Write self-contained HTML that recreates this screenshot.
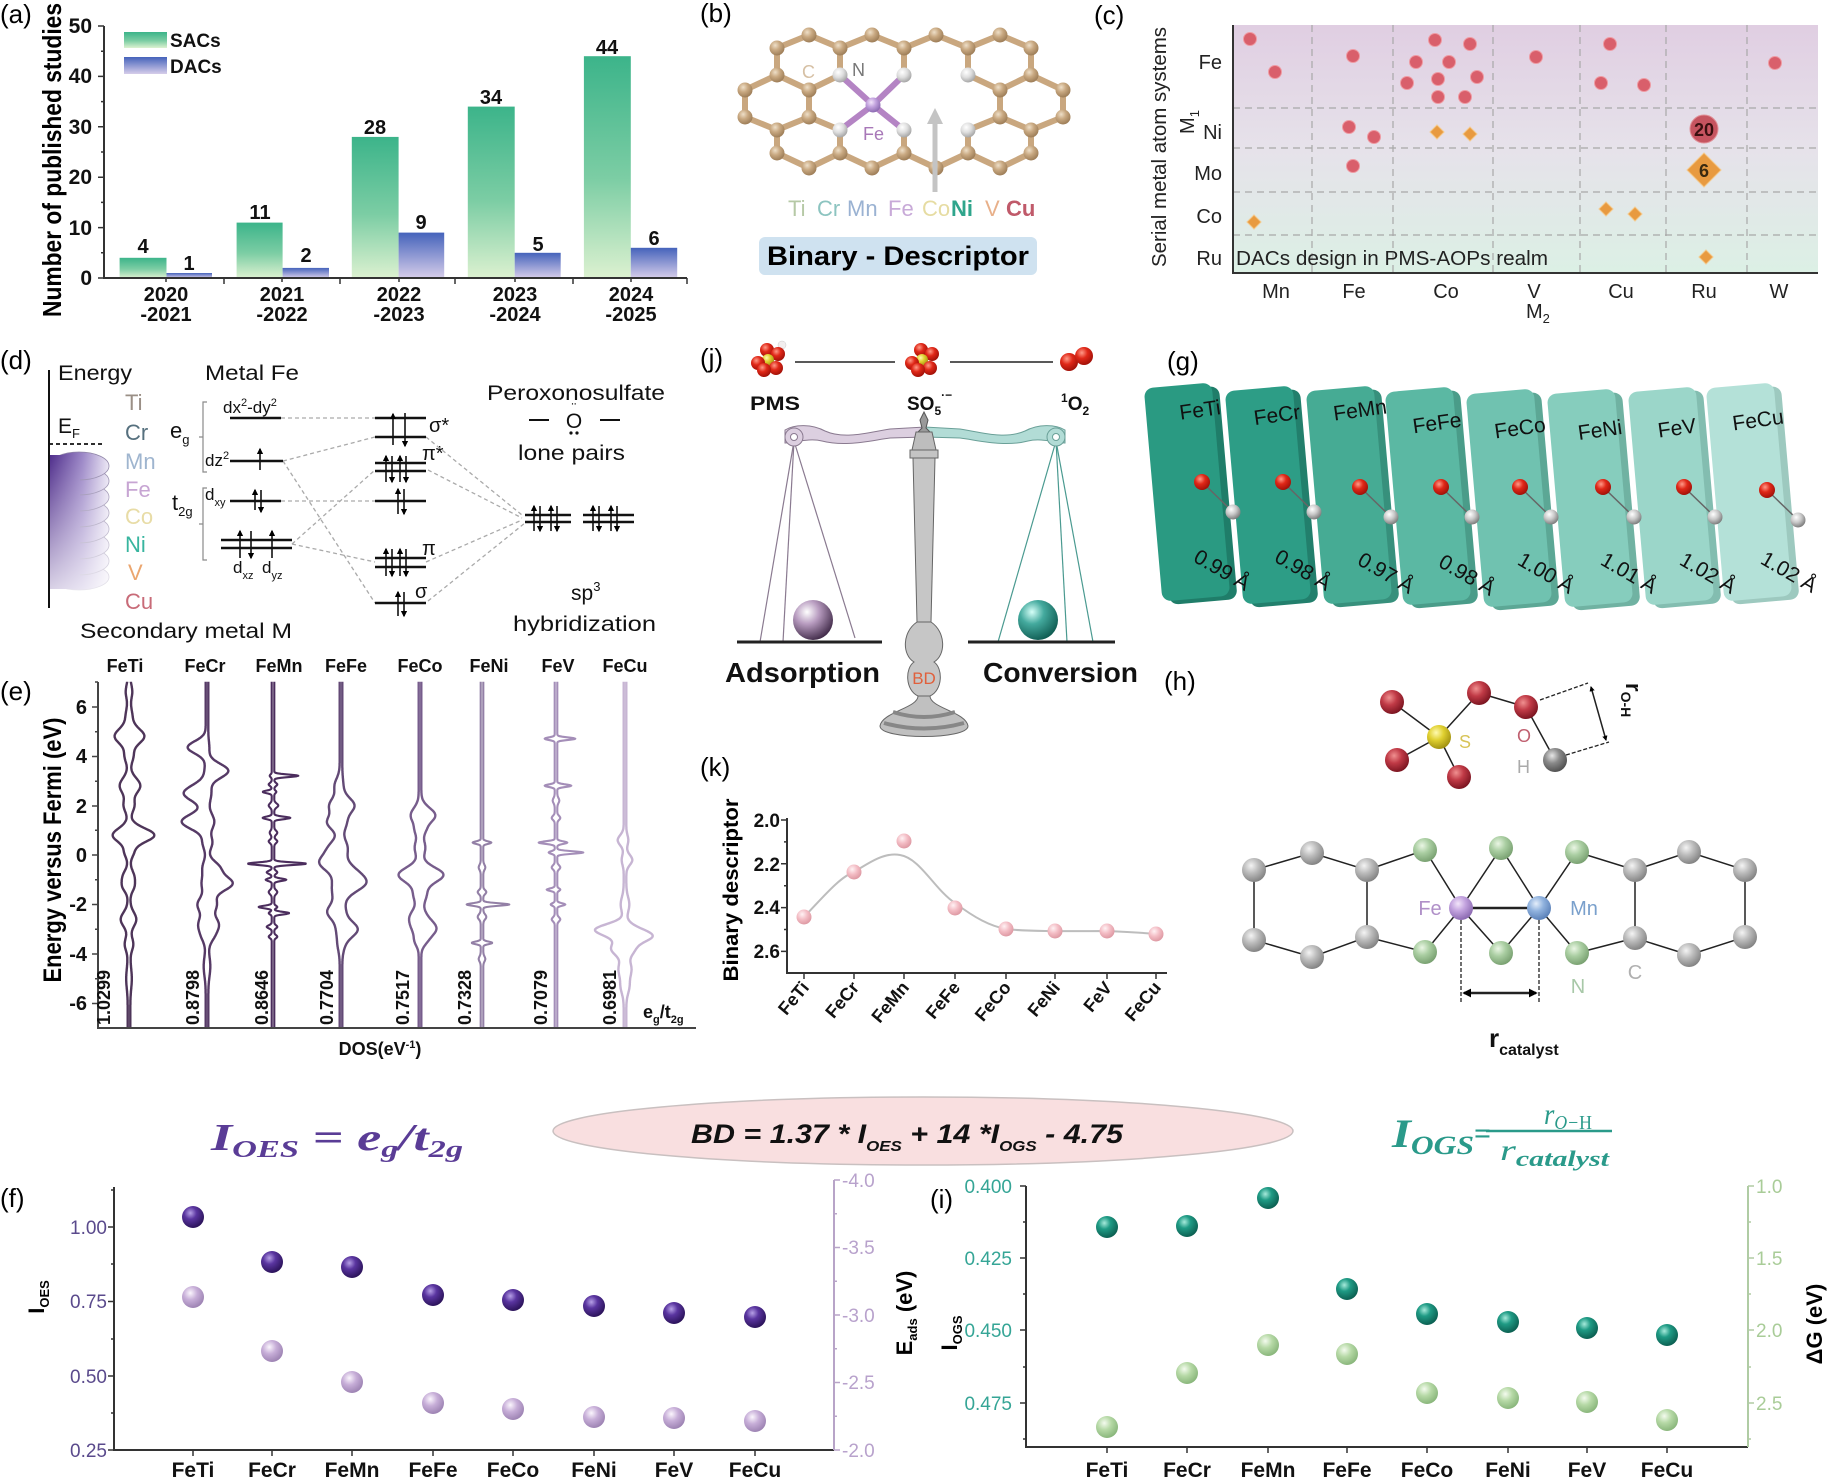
<!DOCTYPE html>
<html><head><meta charset="utf-8"><title>Binary descriptor figure</title>
<style>html,body{margin:0;padding:0;background:#fff}svg{display:block}</style>
</head><body>
<svg xmlns="http://www.w3.org/2000/svg" width="1836" height="1480" viewBox="0 0 1836 1480" font-family="'Liberation Sans', sans-serif">
<defs>
<linearGradient id="gSAC" x1="0" y1="0" x2="0" y2="1"><stop offset="0" stop-color="#3cb48a"/><stop offset="0.55" stop-color="#7ccda4"/><stop offset="1" stop-color="#dcf1d0"/></linearGradient>
<linearGradient id="gDAC" x1="0" y1="0" x2="0" y2="1"><stop offset="0" stop-color="#4563bb"/><stop offset="1" stop-color="#d6cdea"/></linearGradient>
<linearGradient id="gC" x1="0" y1="0" x2="0" y2="1"><stop offset="0" stop-color="#e0cee2"/><stop offset="0.5" stop-color="#e6e2ea"/><stop offset="1" stop-color="#dcf0e5"/></linearGradient>
<linearGradient id="gBand" gradientUnits="userSpaceOnUse" x1="49" y1="0" x2="110" y2="0"><stop offset="0" stop-color="#4a2888"/><stop offset="0.55" stop-color="#9a85c6"/><stop offset="1" stop-color="#eeeaf6"/></linearGradient>
<linearGradient id="gFade" x1="0" y1="0" x2="0" y2="1"><stop offset="0" stop-color="#fff" stop-opacity="0"/><stop offset="1" stop-color="#fff" stop-opacity="0.8"/></linearGradient>
<radialGradient id="sDark" cx="0.38" cy="0.32" r="0.7"><stop offset="0" stop-color="#b6a0e6"/><stop offset="0.4" stop-color="#5a35a0"/><stop offset="1" stop-color="#2a1258"/></radialGradient>
<radialGradient id="sLight" cx="0.38" cy="0.32" r="0.7"><stop offset="0" stop-color="#fbf6fd"/><stop offset="0.45" stop-color="#c7aed8"/><stop offset="1" stop-color="#9c82b2"/></radialGradient>
<radialGradient id="sTeal" cx="0.38" cy="0.32" r="0.7"><stop offset="0" stop-color="#a6eadb"/><stop offset="0.4" stop-color="#1f9b85"/><stop offset="1" stop-color="#0b5e50"/></radialGradient>
<radialGradient id="sGreen" cx="0.38" cy="0.32" r="0.7"><stop offset="0" stop-color="#f4fbef"/><stop offset="0.45" stop-color="#b6d9a6"/><stop offset="1" stop-color="#88b57a"/></radialGradient>
<radialGradient id="sPink" cx="0.38" cy="0.32" r="0.7"><stop offset="0" stop-color="#fff2f4"/><stop offset="0.5" stop-color="#f3bcc4"/><stop offset="1" stop-color="#dd98a2"/></radialGradient>
<radialGradient id="aO" cx="0.38" cy="0.32" r="0.7"><stop offset="0" stop-color="#f09090"/><stop offset="0.45" stop-color="#c03a46"/><stop offset="1" stop-color="#7a1420"/></radialGradient>
<radialGradient id="aS" cx="0.38" cy="0.32" r="0.7"><stop offset="0" stop-color="#fffab0"/><stop offset="0.45" stop-color="#e0d030"/><stop offset="1" stop-color="#a09010"/></radialGradient>
<radialGradient id="aH" cx="0.38" cy="0.32" r="0.7"><stop offset="0" stop-color="#e6e6e6"/><stop offset="0.45" stop-color="#8a8a8a"/><stop offset="1" stop-color="#505050"/></radialGradient>
<radialGradient id="aC" cx="0.38" cy="0.32" r="0.7"><stop offset="0" stop-color="#f4f4f4"/><stop offset="0.45" stop-color="#bcbcbc"/><stop offset="1" stop-color="#828282"/></radialGradient>
<radialGradient id="aN" cx="0.38" cy="0.32" r="0.7"><stop offset="0" stop-color="#eaf6e4"/><stop offset="0.45" stop-color="#aacea2"/><stop offset="1" stop-color="#78a070"/></radialGradient>
<radialGradient id="aFe" cx="0.38" cy="0.32" r="0.7"><stop offset="0" stop-color="#f2e4fa"/><stop offset="0.45" stop-color="#c2a2de"/><stop offset="1" stop-color="#8a68b0"/></radialGradient>
<radialGradient id="aMn" cx="0.38" cy="0.32" r="0.7"><stop offset="0" stop-color="#e4eefa"/><stop offset="0.45" stop-color="#90b2de"/><stop offset="1" stop-color="#5a80b8"/></radialGradient>
<radialGradient id="aTan" cx="0.38" cy="0.32" r="0.7"><stop offset="0" stop-color="#eedfc8"/><stop offset="0.45" stop-color="#c9a982"/><stop offset="1" stop-color="#9c7c56"/></radialGradient>
<radialGradient id="aW" cx="0.38" cy="0.32" r="0.7"><stop offset="0" stop-color="#ffffff"/><stop offset="0.5" stop-color="#dedede"/><stop offset="1" stop-color="#a4a4a4"/></radialGradient>
<radialGradient id="aRed" cx="0.38" cy="0.32" r="0.7"><stop offset="0" stop-color="#ff9a88"/><stop offset="0.45" stop-color="#e02818"/><stop offset="1" stop-color="#a01008"/></radialGradient>
<radialGradient id="aGr" cx="0.38" cy="0.32" r="0.7"><stop offset="0" stop-color="#ffffff"/><stop offset="0.5" stop-color="#c8c8c8"/><stop offset="1" stop-color="#7a7a7a"/></radialGradient>
<radialGradient id="ballP" cx="0.35" cy="0.3" r="0.75"><stop offset="0" stop-color="#ffffff"/><stop offset="0.4" stop-color="#b89cc0"/><stop offset="1" stop-color="#3e2846"/></radialGradient>
<radialGradient id="ballT" cx="0.35" cy="0.3" r="0.75"><stop offset="0" stop-color="#d6fff8"/><stop offset="0.4" stop-color="#44aa9e"/><stop offset="1" stop-color="#0e5a50"/></radialGradient>
<marker id="ar" viewBox="0 0 10 10" refX="8" refY="5" markerWidth="4" markerHeight="4" orient="auto"><path d="M0,0L10,5L0,10z" fill="#000"/></marker>
<marker id="ar2" viewBox="0 0 10 10" refX="8" refY="5" markerWidth="3.5" markerHeight="3.5" orient="auto-start-reverse"><path d="M0,0L10,5L0,10z" fill="#000"/></marker>
</defs>

<!-- ================= (a) ================= -->
<text x="0" y="23" font-size="26">(a)</text>
<g font-weight="bold" font-size="21" text-anchor="end" fill="#111">
<text x="92" y="33">50</text><text x="92" y="83">40</text><text x="92" y="134">30</text><text x="92" y="184">20</text><text x="92" y="235">10</text><text x="92" y="285">0</text>
</g>
<text transform="rotate(-90 61 160)" x="61" y="160" text-anchor="middle" font-weight="bold" font-size="26" textLength="314" lengthAdjust="spacingAndGlyphs">Number of published studies</text>
<rect x="119.6" y="257.8" width="46.9" height="20.2" fill="url(#gSAC)"/>
<rect x="166.5" y="273" width="45.5" height="5" fill="url(#gDAC)"/>
<rect x="236.6" y="222.6" width="46" height="55.4" fill="url(#gSAC)"/>
<rect x="282.6" y="267.9" width="46.4" height="10.1" fill="url(#gDAC)"/>
<rect x="351.8" y="136.9" width="46.8" height="141.1" fill="url(#gSAC)"/>
<rect x="398.6" y="232.6" width="45.6" height="45.4" fill="url(#gDAC)"/>
<rect x="467.8" y="106.6" width="46.9" height="171.4" fill="url(#gSAC)"/>
<rect x="514.7" y="252.8" width="46" height="25.2" fill="url(#gDAC)"/>
<rect x="583.9" y="56.2" width="46.9" height="221.8" fill="url(#gSAC)"/>
<rect x="630.8" y="247.8" width="46.4" height="30.2" fill="url(#gDAC)"/>
<path d="M104,26V278H687" stroke="#333" stroke-width="2" fill="none"/>
<path d="M98,26H104M98,76.4H104M98,126.8H104M98,177.2H104M98,227.6H104M98,278H104M101,51.2H104M101,101.6H104M101,152H104M101,202.4H104M101,252.8H104" stroke="#333" stroke-width="1.5"/>
<path d="M224,278V284M340,278V284M455,278V284M573,278V284M687,278V284M166,278V282M282,278V282M399,278V282M515,278V282M631,278V282" stroke="#333" stroke-width="1.5"/>
<rect x="124" y="32" width="43" height="16" fill="url(#gSAC)"/>
<rect x="124" y="57" width="43" height="17" fill="url(#gDAC)"/>
<g font-weight="bold" font-size="19" fill="#111">
<text x="170" y="47">SACs</text><text x="170" y="73">DACs</text>
</g>
<g font-weight="bold" font-size="20" text-anchor="middle" fill="#111">
<text x="143" y="253">4</text><text x="189" y="270">1</text>
<text x="260" y="219">11</text><text x="306" y="262">2</text>
<text x="375" y="134">28</text><text x="421" y="229">9</text>
<text x="491" y="104">34</text><text x="538" y="251">5</text>
<text x="607" y="54">44</text><text x="654" y="245">6</text>
<text x="166" y="301">2020</text><text x="166" y="321">-2021</text>
<text x="282" y="301">2021</text><text x="282" y="321">-2022</text>
<text x="399" y="301">2022</text><text x="399" y="321">-2023</text>
<text x="515" y="301">2023</text><text x="515" y="321">-2024</text>
<text x="631" y="301">2024</text><text x="631" y="321">-2025</text>
</g>

<!-- ================= (b) ================= -->
<text x="700" y="22" font-size="26">(b)</text>
<g stroke="#c9a77f" stroke-width="6" stroke-linecap="round" fill="none">
<path d="M777,48L809,35L840,48L872,35L904,48L936,35L968,48L1000,35L1031,48"/>
<path d="M777,48V75M840,48V75M904,48V75M968,48V75M1031,48V75"/>
<path d="M745,90L777,75L809,90L840,75M968,75L1000,90L1031,75L1063,90"/>
<path d="M745,90V117M809,90V117M1000,90V117M1063,90V117"/>
<path d="M745,117L777,130L809,117L840,130M968,130L1000,117L1031,130L1063,117"/>
<path d="M777,130V153M840,130V153M904,130V153M968,130V153M1031,130V153"/>
<path d="M777,153L809,168L840,153L872,168L904,153L936,168L968,153L1000,168L1031,153"/>
</g>
<path d="M873,105L840,75M873,105L904,75M873,105L840,130M873,105L904,130" stroke="#b484c4" stroke-width="6" stroke-linecap="round"/>
<g fill="url(#aTan)">
<circle cx="809" cy="35" r="7.5"/><circle cx="872" cy="35" r="7.5"/><circle cx="936" cy="35" r="7.5"/><circle cx="1000" cy="35" r="7.5"/>
<circle cx="777" cy="48" r="7.5"/><circle cx="840" cy="48" r="7.5"/><circle cx="904" cy="48" r="7.5"/><circle cx="968" cy="48" r="7.5"/><circle cx="1031" cy="48" r="7.5"/>
<circle cx="777" cy="75" r="7.5"/><circle cx="1031" cy="75" r="7.5"/>
<circle cx="745" cy="90" r="7.5"/><circle cx="809" cy="90" r="7.5"/><circle cx="1000" cy="90" r="7.5"/><circle cx="1063" cy="90" r="7.5"/>
<circle cx="745" cy="117" r="7.5"/><circle cx="809" cy="117" r="7.5"/><circle cx="1000" cy="117" r="7.5"/><circle cx="1063" cy="117" r="7.5"/>
<circle cx="777" cy="130" r="7.5"/><circle cx="1031" cy="130" r="7.5"/>
<circle cx="777" cy="153" r="7.5"/><circle cx="840" cy="153" r="7.5"/><circle cx="904" cy="153" r="7.5"/><circle cx="968" cy="153" r="7.5"/><circle cx="1031" cy="153" r="7.5"/>
<circle cx="809" cy="168" r="7.5"/><circle cx="872" cy="168" r="7.5"/><circle cx="936" cy="168" r="7.5"/><circle cx="1000" cy="168" r="7.5"/>
</g>
<g fill="url(#aW)">
<circle cx="840" cy="75" r="7.5"/><circle cx="904" cy="75" r="7.5"/><circle cx="968" cy="75" r="7.5"/>
<circle cx="840" cy="130" r="7.5"/><circle cx="904" cy="130" r="7.5"/><circle cx="968" cy="130" r="7.5"/>
</g>
<circle cx="873" cy="105" r="7.5" fill="url(#aFe)"/>
<path d="M935,192V122" stroke="#c4c4c4" stroke-width="5"/>
<polygon points="927,124 935,108 943,124" fill="#c4c4c4"/>
<text x="802" y="78" font-size="18" fill="#d6c0a4">C</text>
<text x="852" y="76" font-size="18" fill="#777">N</text>
<text x="863" y="140" font-size="18" fill="#a878b8">Fe</text>
<g font-size="22">
<text x="788" y="216" fill="#b6c9a6">Ti</text>
<text x="817" y="216" fill="#8cc4c0">Cr</text>
<text x="847" y="216" fill="#9ab2d2">Mn</text>
<text x="888" y="216" fill="#c8aad8">Fe</text>
<text x="922" y="216" fill="#e6dca2">Co</text>
<text x="951" y="216" fill="#2fa58c" font-weight="bold">Ni</text>
<text x="985" y="216" fill="#e8b08a">V</text>
<text x="1006" y="216" fill="#c05a6a" font-weight="bold">Cu</text>
</g>
<rect x="759" y="237" width="278" height="38" rx="6" fill="#cfe2f0"/>
<text x="898" y="265" text-anchor="middle" font-size="27" font-weight="bold" textLength="262" lengthAdjust="spacingAndGlyphs">Binary - Descriptor</text>

<!-- ================= (c) ================= -->
<text x="1094" y="24" font-size="26">(c)</text>
<rect x="1233" y="25" width="585" height="248" fill="url(#gC)"/>
<g stroke="#a8a8a8" stroke-width="1.2" stroke-dasharray="7 5" fill="none">
<path d="M1233,108H1818M1233,148H1818M1233,192H1818M1233,235H1818"/>
<path d="M1312,25V273M1393,25V273M1493,25V273M1580,25V273M1666,25V273M1747,25V273"/>
</g>
<path d="M1233,25V273H1818" stroke="#333" stroke-width="2" fill="none"/>
<g fill="#d95f6b" stroke="#ee9aa2" stroke-width="1">
<circle cx="1250" cy="39" r="6.5"/><circle cx="1275" cy="72" r="6.5"/>
<circle cx="1353" cy="56" r="6.5"/><circle cx="1435" cy="40" r="6.5"/><circle cx="1470" cy="44" r="6.5"/>
<circle cx="1416" cy="62" r="6.5"/><circle cx="1449" cy="62" r="6.5"/><circle cx="1407" cy="83" r="6.5"/>
<circle cx="1438" cy="79" r="6.5"/><circle cx="1477" cy="77" r="6.5"/><circle cx="1438" cy="97" r="6.5"/>
<circle cx="1465" cy="97" r="6.5"/><circle cx="1536" cy="57" r="6.5"/><circle cx="1610" cy="44" r="6.5"/>
<circle cx="1601" cy="83" r="6.5"/><circle cx="1644" cy="85" r="6.5"/><circle cx="1775" cy="63" r="6.5"/>
<circle cx="1349" cy="127" r="6.5"/><circle cx="1374" cy="137" r="6.5"/><circle cx="1353" cy="166" r="6.5"/>
</g>
<circle cx="1704" cy="129" r="14" fill="#c65460" stroke="#e09098" stroke-width="1"/>
<text x="1704" y="136" text-anchor="middle" font-size="18" font-weight="bold" fill="#3a1010">20</text>
<g fill="#e89a40" stroke="#f4c88a" stroke-width="1">
<polygon points="1437,125 1444,132 1437,139 1430,132"/>
<polygon points="1470,127 1477,134 1470,141 1463,134"/>
<polygon points="1606,202 1613,209 1606,216 1599,209"/>
<polygon points="1635,207 1642,214 1635,221 1628,214"/>
<polygon points="1706,250 1713,257 1706,264 1699,257"/>
<polygon points="1254,215 1261,222 1254,229 1247,222"/>
<polygon points="1704,153 1721,170 1704,187 1687,170"/>
</g>
<text x="1704" y="177" text-anchor="middle" font-size="18" font-weight="bold" fill="#3a2a10">6</text>
<g font-size="20" fill="#222">
<text x="1222" y="69" text-anchor="end">Fe</text>
<text x="1222" y="139" text-anchor="end">Ni</text>
<text x="1222" y="180" text-anchor="end">Mo</text>
<text x="1222" y="223" text-anchor="end">Co</text>
<text x="1222" y="265" text-anchor="end">Ru</text>
<text x="1236" y="265" textLength="312" lengthAdjust="spacingAndGlyphs">DACs design in PMS-AOPs realm</text>
<text x="1276" y="298" text-anchor="middle">Mn</text>
<text x="1354" y="298" text-anchor="middle">Fe</text>
<text x="1446" y="298" text-anchor="middle">Co</text>
<text x="1534" y="298" text-anchor="middle">V</text>
<text x="1621" y="298" text-anchor="middle">Cu</text>
<text x="1704" y="298" text-anchor="middle">Ru</text>
<text x="1779" y="298" text-anchor="middle">W</text>
<text x="1526" y="318">M<tspan font-size="13" dy="5">2</tspan></text>
<text transform="rotate(-90 1166 147)" x="1166" y="147" text-anchor="middle" textLength="240" lengthAdjust="spacingAndGlyphs">Serial metal atom systems</text>
<text transform="rotate(-90 1194 122)" x="1194" y="122" text-anchor="middle">M<tspan font-size="13" dy="5">1</tspan></text>
</g>

<!-- ================= (d) ================= -->
<text x="0" y="369" font-size="26">(d)</text>
<path d="M49,370V608" stroke="#111" stroke-width="2"/>
<g fill="url(#gBand)" stroke="#8d82a6" stroke-width="0.8">
<ellipse cx="79" cy="577" rx="30" ry="13"/><ellipse cx="79" cy="561" rx="30" ry="14"/>
<ellipse cx="79" cy="545" rx="30" ry="14"/><ellipse cx="79" cy="529" rx="30" ry="14"/>
<ellipse cx="79" cy="513" rx="30" ry="14"/><ellipse cx="79" cy="497" rx="30" ry="14"/>
<ellipse cx="79" cy="481" rx="30" ry="14"/><ellipse cx="79" cy="466" rx="30" ry="14"/>
</g>
<rect x="50" y="455" width="30" height="134" fill="url(#gBand)"/>
<rect x="45" y="452" width="70" height="140" fill="url(#gFade)"/>
<path d="M49,370V608" stroke="#111" stroke-width="2"/>
<path d="M49,444H103" stroke="#111" stroke-width="1.8" stroke-dasharray="4 3"/>
<g font-size="21" fill="#111">
<text x="58" y="380" textLength="74" lengthAdjust="spacingAndGlyphs">Energy</text>
<text x="205" y="380" textLength="94" lengthAdjust="spacingAndGlyphs">Metal Fe</text>
<text x="58" y="433">E<tspan font-size="13" dy="5">F</tspan></text>
<text x="80" y="638" textLength="212" lengthAdjust="spacingAndGlyphs">Secondary metal M</text>
<text x="487" y="400" textLength="178" lengthAdjust="spacingAndGlyphs">Peroxonosulfate</text>
<text x="518" y="460" textLength="107" lengthAdjust="spacingAndGlyphs">lone pairs</text>
<text x="571" y="600">sp<tspan font-size="13" dy="-9">3</tspan></text>
<text x="513" y="631" textLength="143" lengthAdjust="spacingAndGlyphs">hybridization</text>
<text x="574" y="428" text-anchor="middle">O</text>
</g>
<text x="574" y="413" text-anchor="middle" font-size="14">¨</text>
<circle cx="571" cy="433" r="1.6" fill="#111"/><circle cx="577" cy="433" r="1.6" fill="#111"/>
<path d="M529,420H549M600,420H620" stroke="#111" stroke-width="2"/>
<g font-size="22">
<text x="125" y="410" fill="#9a8f86">Ti</text>
<text x="125" y="440" fill="#56707e">Cr</text>
<text x="125" y="469" fill="#9fb5cf">Mn</text>
<text x="125" y="497" fill="#c7a5d3">Fe</text>
<text x="125" y="524" fill="#e8dca6">Co</text>
<text x="125" y="552" fill="#38b59f">Ni</text>
<text x="128" y="580" fill="#eba66f">V</text>
<text x="125" y="609" fill="#c86b78">Cu</text>
</g>
<g font-size="22" fill="#111">
<text x="170" y="438">e<tspan font-size="13" dy="6">g</tspan></text>
<text x="172" y="510">t<tspan font-size="13" dy="6">2g</tspan></text>
</g>
<path d="M207,402H203V472H207M203,437H199M207,488H203V560H207M203,524H199" stroke="#8a8a8a" stroke-width="1.2" fill="none"/>
<g font-size="17" fill="#111">
<text x="223" y="413">dx<tspan font-size="11" dy="-7">2</tspan><tspan dy="7">-dy</tspan><tspan font-size="11" dy="-7">2</tspan></text>
<text x="205" y="466">dz<tspan font-size="11" dy="-7">2</tspan></text>
<text x="205" y="500">d<tspan font-size="11" dy="6">xy</tspan></text>
<text x="233" y="573">d<tspan font-size="11" dy="6">xz</tspan></text>
<text x="262" y="573">d<tspan font-size="11" dy="6">yz</tspan></text>
</g>
<g font-size="20" fill="#111">
<text x="429" y="432">σ*</text>
<text x="422" y="460">π*</text>
<text x="422" y="555">π</text>
<text x="415" y="598">σ</text>
</g>
<g stroke="#aaa" stroke-width="1.3" stroke-dasharray="4 3" fill="none">
<path d="M281,418H375M283,461L375,437M283,461L375,603M281,501H375M292,544L375,470M292,544L375,562"/>
<path d="M426,437L522,515M428,470L522,518M426,562L522,520M428,601L525,523"/>
</g>
<g stroke="#111" stroke-width="2.4">
<path d="M230,418H281M230,461H283M230,501H281M221,540H292M221,548H292"/>
<path d="M375,418H426M375,437H426M375,463H426M375,471H426M375,501H426M375,558H426M375,567H426M375,603H426"/>
<path d="M525,515H571M525,522H571M583,515H634M583,522H634"/>
</g>
<g stroke="#111" stroke-width="1.6" marker-end="url(#ar)">
<line x1="260" y1="470" x2="260" y2="449"/>
<line x1="255" y1="510" x2="255" y2="490"/><line x1="261" y1="490" x2="261" y2="512"/>
<line x1="240" y1="558" x2="240" y2="531"/><line x1="251" y1="531" x2="251" y2="558"/><line x1="272" y1="558" x2="272" y2="531"/>
<line x1="393" y1="445" x2="393" y2="414"/><line x1="405" y1="413" x2="405" y2="446"/>
<line x1="386" y1="482" x2="386" y2="456"/><line x1="392" y1="456" x2="392" y2="482"/><line x1="400" y1="482" x2="400" y2="456"/><line x1="406" y1="456" x2="406" y2="482"/>
<line x1="398" y1="514" x2="398" y2="489"/><line x1="404" y1="489" x2="404" y2="514"/>
<line x1="386" y1="576" x2="386" y2="549"/><line x1="392" y1="549" x2="392" y2="576"/><line x1="400" y1="576" x2="400" y2="549"/><line x1="406" y1="549" x2="406" y2="576"/>
<line x1="398" y1="616" x2="398" y2="592"/><line x1="404" y1="592" x2="404" y2="616"/>
<line x1="534" y1="531" x2="534" y2="506"/><line x1="540" y1="506" x2="540" y2="531"/><line x1="551" y1="531" x2="551" y2="506"/><line x1="557" y1="506" x2="557" y2="531"/>
<line x1="593" y1="531" x2="593" y2="506"/><line x1="599" y1="506" x2="599" y2="531"/><line x1="611" y1="531" x2="611" y2="506"/><line x1="617" y1="506" x2="617" y2="531"/>
</g>

<!-- ================= (j) ================= -->
<text x="700" y="367" font-size="26">(j)</text>
<path d="M795,362H895M950,362H1053" stroke="#222" stroke-width="1.5"/>
<g>
<circle cx="782" cy="345" r="4" fill="#f2eeee" stroke="#ccc" stroke-width="0.5"/>
<circle cx="767" cy="350" r="7" fill="url(#aRed)"/><circle cx="778" cy="354" r="7" fill="url(#aRed)"/>
<circle cx="768" cy="360" r="6" fill="url(#aS)"/>
<circle cx="758" cy="363" r="7" fill="url(#aRed)"/><circle cx="776" cy="368" r="7" fill="url(#aRed)"/><circle cx="764" cy="370" r="7" fill="url(#aRed)"/>
</g>
<g transform="translate(154,0)">
<circle cx="767" cy="350" r="7" fill="url(#aRed)"/><circle cx="778" cy="354" r="7" fill="url(#aRed)"/>
<circle cx="768" cy="360" r="6" fill="url(#aS)"/>
<circle cx="758" cy="363" r="7" fill="url(#aRed)"/><circle cx="776" cy="368" r="7" fill="url(#aRed)"/><circle cx="764" cy="370" r="7" fill="url(#aRed)"/>
</g>
<circle cx="1069" cy="362" r="9" fill="url(#aRed)"/><circle cx="1084" cy="356" r="9" fill="url(#aRed)"/>
<g font-size="19" font-weight="bold" fill="#111">
<text x="750" y="410" textLength="50" lengthAdjust="spacingAndGlyphs">PMS</text>
<text x="907" y="410">SO<tspan font-size="12" dy="5">5</tspan><tspan font-size="12" dy="-16">·−</tspan></text>
<text x="1061" y="410"><tspan font-size="12" dy="-8">1</tspan><tspan dy="8">O</tspan><tspan font-size="12" dy="5">2</tspan></text>
</g>
<g stroke="#8a7a90" stroke-width="1.2">
<line x1="794" y1="441" x2="760" y2="642"/><line x1="794" y1="441" x2="783" y2="642"/><line x1="794" y1="441" x2="855" y2="638"/>
</g>
<g stroke="#4a9a90" stroke-width="1.2">
<line x1="1056" y1="441" x2="998" y2="642"/><line x1="1056" y1="441" x2="1067" y2="642"/><line x1="1056" y1="441" x2="1093" y2="642"/>
</g>
<path d="M737,642H882M968,642H1115" stroke="#222" stroke-width="3"/>
<circle cx="813" cy="620" r="20" fill="url(#ballP)"/>
<circle cx="1038" cy="620" r="20" fill="url(#ballT)"/>
<path d="M785,430C795,424 812,424 825,431C845,440 870,432 890,429L925,427L925,437L890,438C868,441 845,447 822,441C810,438 797,442 785,443Z" fill="#dccfe0" stroke="#8a7a90" stroke-width="1"/>
<circle cx="794" cy="437" r="9" fill="#dccfe0" stroke="#8a7a90"/><circle cx="794" cy="437" r="3.5" fill="#fff" stroke="#8a7a90"/>
<g transform="translate(1850,0) scale(-1,1)">
<path d="M785,430C795,424 812,424 825,431C845,440 870,432 890,429L925,427L925,437L890,438C868,441 845,447 822,441C810,438 797,442 785,443Z" fill="#b2dcd6" stroke="#6aa098" stroke-width="1"/>
<circle cx="794" cy="437" r="9" fill="#b2dcd6" stroke="#6aa098"/><circle cx="794" cy="437" r="3.5" fill="#fff" stroke="#6aa098"/>
</g>
<path d="M924,412L928,420L926,428L930,432L918,432L922,428L920,420Z" fill="#9a9a9a" stroke="#555"/>
<path d="M916,432L932,432L936,450L912,450Z" fill="#bdbdbd" stroke="#666"/>
<rect x="910" y="450" width="28" height="8" fill="#c4c4c4" stroke="#666"/>
<path d="M913,458L935,458L931,622L917,622Z" fill="#c6c6c6" stroke="#666"/>
<path d="M917,622C902,632 902,655 914,662C905,668 905,690 918,696L930,696C943,690 943,668 934,662C946,655 946,632 931,622Z" fill="#c6c6c6" stroke="#666"/>
<path d="M918,696C918,708 882,712 880,726C880,740 968,740 968,726C966,712 930,708 930,696Z" fill="#c0c0c0" stroke="#666"/>
<path d="M893,712Q924,722 955,712M884,723Q924,734 964,723" stroke="#878787" stroke-width="4" fill="none"/>
<text x="924" y="684" text-anchor="middle" font-size="17" fill="#e0603c">BD</text>
<g font-size="28" font-weight="bold" fill="#111">
<text x="725" y="682" textLength="155" lengthAdjust="spacingAndGlyphs">Adsorption</text>
<text x="983" y="682" textLength="155" lengthAdjust="spacingAndGlyphs">Conversion</text>
</g>

<!-- ================= (g) ================= -->
<text x="1167" y="370" font-size="26">(g)</text>
<g>
<g transform="rotate(-5 1187 492)"><rect x="1160" y="389" width="68" height="214" rx="9" fill="#1f7d69"/><rect x="1153" y="385" width="68" height="214" rx="9" fill="#2a9a82"/></g>
<g transform="rotate(-5 1268 495)"><rect x="1241" y="392" width="68" height="214" rx="9" fill="#227f6c"/><rect x="1234" y="388" width="68" height="214" rx="9" fill="#2d9d86"/></g>
<g transform="rotate(-5 1349 495)"><rect x="1322" y="392" width="68" height="214" rx="9" fill="#37907c"/><rect x="1315" y="388" width="68" height="214" rx="9" fill="#46ab94"/></g>
<g transform="rotate(-5 1428 496)"><rect x="1401" y="393" width="68" height="214" rx="9" fill="#4a9c89"/><rect x="1394" y="389" width="68" height="214" rx="9" fill="#5bb8a3"/></g>
<g transform="rotate(-5 1509 498)"><rect x="1482" y="395" width="68" height="214" rx="9" fill="#5ca795"/><rect x="1475" y="391" width="68" height="214" rx="9" fill="#70c2b0"/></g>
<g transform="rotate(-5 1590 498)"><rect x="1563" y="395" width="68" height="214" rx="9" fill="#70b2a2"/><rect x="1556" y="391" width="68" height="214" rx="9" fill="#86cdbd"/></g>
<g transform="rotate(-5 1671 496)"><rect x="1644" y="393" width="68" height="214" rx="9" fill="#83bdb0"/><rect x="1637" y="389" width="68" height="214" rx="9" fill="#9bd6c9"/></g>
<g transform="rotate(-5 1749 492)"><rect x="1722" y="389" width="68" height="214" rx="9" fill="#9dc9bf"/><rect x="1715" y="385" width="68" height="214" rx="9" fill="#b4e1d8"/></g>
</g>
<g stroke="#666" stroke-width="1.5">
<line x1="1202" y1="482" x2="1233" y2="512"/><line x1="1283" y1="482" x2="1314" y2="512"/>
<line x1="1360" y1="487" x2="1391" y2="517"/><line x1="1441" y1="487" x2="1472" y2="517"/>
<line x1="1520" y1="487" x2="1551" y2="517"/><line x1="1603" y1="487" x2="1634" y2="517"/>
<line x1="1684" y1="487" x2="1715" y2="517"/><line x1="1767" y1="490" x2="1798" y2="520"/>
</g>
<g fill="url(#aRed)">
<circle cx="1202" cy="482" r="8"/><circle cx="1283" cy="482" r="8"/><circle cx="1360" cy="487" r="8"/><circle cx="1441" cy="487" r="8"/>
<circle cx="1520" cy="487" r="8"/><circle cx="1603" cy="487" r="8"/><circle cx="1684" cy="487" r="8"/><circle cx="1767" cy="490" r="8"/>
</g>
<g fill="url(#aGr)">
<circle cx="1233" cy="512" r="7.5"/><circle cx="1314" cy="512" r="7.5"/><circle cx="1391" cy="517" r="7.5"/><circle cx="1472" cy="517" r="7.5"/>
<circle cx="1551" cy="517" r="7.5"/><circle cx="1634" cy="517" r="7.5"/><circle cx="1715" cy="517" r="7.5"/><circle cx="1798" cy="520" r="7.5"/>
</g>
<g font-size="21" fill="#111" text-anchor="middle">
<text x="1200" y="417" transform="rotate(-8 1200 410)">FeTi</text>
<text x="1277" y="422" transform="rotate(-8 1277 415)">FeCr</text>
<text x="1360" y="417" transform="rotate(-8 1360 410)">FeMn</text>
<text x="1437" y="430" transform="rotate(-8 1437 423)">FeFe</text>
<text x="1520" y="435" transform="rotate(-8 1520 428)">FeCo</text>
<text x="1600" y="437" transform="rotate(-8 1600 430)">FeNi</text>
<text x="1677" y="435" transform="rotate(-8 1677 428)">FeV</text>
<text x="1758" y="427" transform="rotate(-8 1758 420)">FeCu</text>
<text x="1222" y="577" transform="rotate(30 1222 570)">0.99 Å</text>
<text x="1303" y="577" transform="rotate(30 1303 570)">0.98 Å</text>
<text x="1386" y="580" transform="rotate(30 1386 573)">0.97 Å</text>
<text x="1467" y="582" transform="rotate(30 1467 575)">0.98 Å</text>
<text x="1546" y="580" transform="rotate(30 1546 573)">1.00 Å</text>
<text x="1629" y="580" transform="rotate(30 1629 573)">1.01 Å</text>
<text x="1708" y="580" transform="rotate(30 1708 573)">1.02 Å</text>
<text x="1789" y="579" transform="rotate(30 1789 572)">1.02 Å</text>
</g>

<!-- ================= (e) ================= -->
<text x="0" y="700" font-size="26">(e)</text>
<g id="dos"></g>
<path d="M98,682V1028H696" stroke="#444" stroke-width="2" fill="none"/>
<path d="M92,707H98M92,756.5H98M92,806H98M92,855H98M92,904.5H98M92,954H98M92,1003.5H98M95,682H98M95,731.7H98M95,781.2H98M95,830.3H98M95,879.8H98M95,929.3H98M95,978.8H98" stroke="#444" stroke-width="1.5"/>
<g font-size="20" font-weight="bold" text-anchor="end" fill="#111">
<text x="87" y="714">6</text><text x="87" y="763">4</text><text x="87" y="813">2</text><text x="87" y="862">0</text>
<text x="87" y="911">-2</text><text x="87" y="961">-4</text><text x="87" y="1010">-6</text>
</g>
<text transform="rotate(-90 61 850)" x="61" y="850" text-anchor="middle" font-size="25" font-weight="bold" textLength="265" lengthAdjust="spacingAndGlyphs">Energy versus Fermi (eV)</text>
<g font-size="18" font-weight="bold" text-anchor="middle" fill="#111">
<text x="125" y="672">FeTi</text><text x="205" y="672">FeCr</text><text x="279" y="672">FeMn</text><text x="346" y="672">FeFe</text>
<text x="420" y="672">FeCo</text><text x="489" y="672">FeNi</text><text x="558" y="672">FeV</text><text x="625" y="672">FeCu</text>
</g>
<g font-size="18" font-weight="bold" fill="#111">
<text x="110" y="1025" transform="rotate(-90 110 1025)">1.0299</text>
<text x="199" y="1025" transform="rotate(-90 199 1025)">0.8798</text>
<text x="268" y="1025" transform="rotate(-90 268 1025)">0.8646</text>
<text x="333" y="1025" transform="rotate(-90 333 1025)">0.7704</text>
<text x="409" y="1025" transform="rotate(-90 409 1025)">0.7517</text>
<text x="471" y="1025" transform="rotate(-90 471 1025)">0.7328</text>
<text x="547" y="1025" transform="rotate(-90 547 1025)">0.7079</text>
<text x="616" y="1025" transform="rotate(-90 616 1025)">0.6981</text>
<text x="643" y="1018">e<tspan font-size="11" dy="5">g</tspan><tspan dy="-5">/t</tspan><tspan font-size="11" dy="5">2g</tspan></text>
<text x="380" y="1055" text-anchor="middle">DOS(eV<tspan font-size="11" dy="-7">-1</tspan><tspan dy="7">)</tspan></text>
</g>

<!-- ================= (k) ================= -->
<text x="700" y="776" font-size="26">(k)</text>
<path d="M787,818V973H1167" stroke="#333" stroke-width="2" fill="none"/>
<path d="M781,820H787M781,863.8H787M781,907.6H787M781,951.4H787M784,841.9H787M784,885.7H787M784,929.5H787M804,973V979M854,973V979M904,973V979M955,973V979M1006,973V979M1055,973V979M1107,973V979M1156,973V979" stroke="#333" stroke-width="1.5"/>
<g font-size="19" font-weight="bold" text-anchor="end" fill="#111">
<text x="780" y="827">2.0</text><text x="780" y="871">2.2</text><text x="780" y="914">2.4</text><text x="780" y="958">2.6</text>
</g>
<text transform="rotate(-90 738 890)" x="738" y="890" text-anchor="middle" font-size="21" font-weight="bold" textLength="183" lengthAdjust="spacingAndGlyphs">Binary descriptor</text>
<path d="M804,917C825,895 840,877 854,872C870,862 885,852 900,855C920,858 935,890 955,903C975,918 990,926 1006,929C1030,932 1080,931 1107,931C1130,932 1145,933 1156,934" stroke="#bdbdbd" stroke-width="2" fill="none"/>
<g fill="url(#sPink)">
<circle cx="804" cy="917" r="7.5"/><circle cx="854" cy="872" r="7.5"/><circle cx="904" cy="841" r="7.5"/><circle cx="955" cy="908" r="7.5"/>
<circle cx="1006" cy="929" r="7.5"/><circle cx="1055" cy="931" r="7.5"/><circle cx="1107" cy="931" r="7.5"/><circle cx="1156" cy="934" r="7.5"/>
</g>
<g font-size="18" font-weight="bold" text-anchor="end" fill="#111">
<text x="810" y="988" transform="rotate(-50 810 988)">FeTi</text>
<text x="860" y="988" transform="rotate(-50 860 988)">FeCr</text>
<text x="910" y="988" transform="rotate(-50 910 988)">FeMn</text>
<text x="961" y="988" transform="rotate(-50 961 988)">FeFe</text>
<text x="1012" y="988" transform="rotate(-50 1012 988)">FeCo</text>
<text x="1061" y="988" transform="rotate(-50 1061 988)">FeNi</text>
<text x="1113" y="988" transform="rotate(-50 1113 988)">FeV</text>
<text x="1162" y="988" transform="rotate(-50 1162 988)">FeCu</text>
</g>

<!-- ================= (h) ================= -->
<text x="1164" y="690" font-size="26">(h)</text>
<path d="M1439,737L1392,702M1439,737L1397,760M1439,737L1459,777M1439,737L1479,693M1479,693L1526,707M1526,707L1555,760" stroke="#222" stroke-width="1.5"/>
<circle cx="1392" cy="702" r="12" fill="url(#aO)"/><circle cx="1397" cy="760" r="12" fill="url(#aO)"/>
<circle cx="1459" cy="777" r="12" fill="url(#aO)"/><circle cx="1479" cy="693" r="12" fill="url(#aO)"/>
<circle cx="1526" cy="707" r="12" fill="url(#aO)"/>
<circle cx="1439" cy="737" r="12" fill="url(#aS)"/>
<circle cx="1555" cy="760" r="12" fill="url(#aH)"/>
<g font-size="18">
<text x="1459" y="748" fill="#d8c458">S</text>
<text x="1517" y="742" fill="#c06070">O</text>
<text x="1517" y="773" fill="#aaa">H</text>
</g>
<path d="M1540,700L1588,683M1566,755L1609,742" stroke="#222" stroke-width="1.3" stroke-dasharray="4 2"/>
<line x1="1591" y1="687" x2="1606" y2="740" stroke="#222" stroke-width="1.5" marker-start="url(#ar2)" marker-end="url(#ar2)"/>
<text x="1626" y="683" transform="rotate(90 1626 683)" font-size="22" font-weight="bold" fill="#111">r<tspan font-size="14" dy="5">O-H</tspan></text>
<g stroke="#222" stroke-width="1.5" fill="none">
<path d="M1254,870L1312,853L1367,870L1367,937L1312,957L1254,940Z"/>
<path d="M1635,870L1689,852L1745,870L1745,937L1689,955L1635,938Z"/>
<path d="M1367,870L1425,850L1461,908L1425,952L1367,937"/>
<path d="M1635,870L1577,852L1539,908L1577,953L1635,938"/>
<path d="M1461,908L1501,848L1539,908L1501,953Z"/>
</g>
<line x1="1461" y1="908" x2="1539" y2="908" stroke="#222" stroke-width="2.5"/>
<g fill="url(#aC)">
<circle cx="1254" cy="870" r="12"/><circle cx="1312" cy="853" r="12"/><circle cx="1367" cy="870" r="12"/>
<circle cx="1367" cy="937" r="12"/><circle cx="1312" cy="957" r="12"/><circle cx="1254" cy="940" r="12"/>
<circle cx="1635" cy="870" r="12"/><circle cx="1689" cy="852" r="12"/><circle cx="1745" cy="870" r="12"/>
<circle cx="1745" cy="937" r="12"/><circle cx="1689" cy="955" r="12"/><circle cx="1635" cy="938" r="12"/>
</g>
<g fill="url(#aN)">
<circle cx="1425" cy="850" r="12"/><circle cx="1501" cy="848" r="12"/><circle cx="1577" cy="852" r="12"/>
<circle cx="1425" cy="952" r="12"/><circle cx="1501" cy="953" r="12"/><circle cx="1577" cy="953" r="12"/>
</g>
<circle cx="1461" cy="908" r="12" fill="url(#aFe)"/>
<circle cx="1539" cy="908" r="12" fill="url(#aMn)"/>
<path d="M1461,920V1002M1539,920V1002" stroke="#222" stroke-width="1.3" stroke-dasharray="4 2"/>
<line x1="1464" y1="993" x2="1536" y2="993" stroke="#222" stroke-width="2.5" marker-start="url(#ar2)" marker-end="url(#ar2)"/>
<g font-size="20">
<text x="1430" y="915" text-anchor="middle" fill="#b090c8">Fe</text>
<text x="1584" y="915" text-anchor="middle" fill="#7aa0cc">Mn</text>
<text x="1578" y="993" text-anchor="middle" fill="#a8c8a8">N</text>
<text x="1635" y="979" text-anchor="middle" fill="#b0b0b0">C</text>
</g>
<text x="1489" y="1047" font-size="26" font-weight="bold" fill="#111">r<tspan font-size="16" dy="8">catalyst</tspan></text>

<!-- ================= equations ================= -->
<text x="211" y="1150" font-family="'Liberation Serif', serif" font-style="italic" font-weight="bold" font-size="38" fill="#5a3c96" textLength="252" lengthAdjust="spacingAndGlyphs">I<tspan font-size="24" dy="7">OES</tspan><tspan dy="-7"> = e</tspan><tspan font-size="24" dy="7">g</tspan><tspan dy="-7">/t</tspan><tspan font-size="24" dy="7">2g</tspan></text>
<ellipse cx="923" cy="1131" rx="370" ry="34" fill="#f9dfe0" stroke="#c9c0c0" stroke-width="1.5"/>
<text x="691" y="1143" font-style="italic" font-weight="bold" font-size="27" fill="#111" textLength="432" lengthAdjust="spacingAndGlyphs">BD = 1.37 * I<tspan font-size="15" dy="8">OES</tspan><tspan dy="-8"> + 14 *I</tspan><tspan font-size="15" dy="8">OGS</tspan><tspan dy="-8"> - 4.75</tspan></text>
<g font-family="'Liberation Serif', serif" font-style="italic" fill="#2a9a8a">
<text x="1392" y="1147" font-size="40" font-weight="bold" textLength="82" lengthAdjust="spacingAndGlyphs">I<tspan font-size="26" dy="7">OGS</tspan></text>
<text x="1474" y="1143" font-size="30" font-style="normal" font-weight="bold">=</text>
<text x="1544" y="1124" font-size="30" textLength="48" lengthAdjust="spacingAndGlyphs">r<tspan font-size="20" dy="5">O−</tspan><tspan font-size="20" font-style="normal">H</tspan></text>
<text x="1500" y="1160" font-size="30" textLength="109" lengthAdjust="spacingAndGlyphs">r<tspan font-size="22" dy="6" font-weight="bold">catalyst</tspan></text>
</g>
<line x1="1486" y1="1131" x2="1612" y2="1131" stroke="#2a9a8a" stroke-width="2.5"/>

<!-- ================= (f) ================= -->
<text x="0" y="1207" font-size="26">(f)</text>
<path d="M114,1187V1450H834" stroke="#333" stroke-width="2" fill="none"/>
<path d="M834,1180V1450" stroke="#b8a4c8" stroke-width="2"/>
<path d="M108,1227H114M108,1301.5H114M108,1376H114M108,1450H114M111,1190H114M111,1264H114M111,1339H114M111,1413H114M193,1450V1456M272,1450V1456M352,1450V1456M433,1450V1456M513,1450V1456M594,1450V1456M674,1450V1456M755,1450V1456" stroke="#333" stroke-width="1.5"/>
<path d="M834,1180H840M834,1247.5H840M834,1315H840M834,1382.5H840M834,1450H840M834,1213.7H837M834,1281.2H837M834,1348.7H837M834,1416.2H837" stroke="#b8a4c8" stroke-width="1.5"/>
<g font-size="19" text-anchor="end" fill="#5a4a8c">
<text x="107" y="1234">1.00</text><text x="107" y="1308">0.75</text><text x="107" y="1383">0.50</text><text x="107" y="1457">0.25</text>
</g>
<g font-size="19" fill="#b8a2cc">
<text x="842" y="1187">-4.0</text><text x="842" y="1254">-3.5</text><text x="842" y="1322">-3.0</text><text x="842" y="1389">-2.5</text><text x="842" y="1457">-2.0</text>
</g>
<text transform="rotate(-90 44 1297)" x="44" y="1297" text-anchor="middle" font-size="22" font-weight="bold">I<tspan font-size="13" dy="5">OES</tspan></text>
<text transform="rotate(-90 912 1313)" x="912" y="1313" text-anchor="middle" font-size="22" font-weight="bold">E<tspan font-size="13" dy="5">ads</tspan><tspan dy="-5"> (eV)</tspan></text>
<g fill="url(#sLight)">
<circle cx="193" cy="1297" r="11"/><circle cx="272" cy="1351" r="11"/><circle cx="352" cy="1382" r="11"/><circle cx="433" cy="1403" r="11"/>
<circle cx="513" cy="1409" r="11"/><circle cx="594" cy="1417" r="11"/><circle cx="674" cy="1418" r="11"/><circle cx="755" cy="1421" r="11"/>
</g>
<g fill="url(#sDark)">
<circle cx="193" cy="1217" r="11"/><circle cx="272" cy="1262" r="11"/><circle cx="352" cy="1267" r="11"/><circle cx="433" cy="1295" r="11"/>
<circle cx="513" cy="1300" r="11"/><circle cx="594" cy="1306" r="11"/><circle cx="674" cy="1313" r="11"/><circle cx="755" cy="1317" r="11"/>
</g>
<g font-size="21" font-weight="bold" text-anchor="middle" fill="#111">
<text x="193" y="1477">FeTi</text><text x="272" y="1477">FeCr</text><text x="352" y="1477">FeMn</text><text x="433" y="1477">FeFe</text>
<text x="513" y="1477">FeCo</text><text x="594" y="1477">FeNi</text><text x="674" y="1477">FeV</text><text x="755" y="1477">FeCu</text>
</g>

<!-- ================= (i) ================= -->
<text x="930" y="1208" font-size="26">(i)</text>
<path d="M1026,1186V1447H1748" stroke="#333" stroke-width="2" fill="none"/>
<path d="M1748,1186V1447" stroke="#b0cca4" stroke-width="2"/>
<path d="M1020,1186H1026M1020,1258H1026M1020,1330H1026M1020,1403H1026M1023,1222H1026M1023,1294H1026M1023,1367H1026M1023,1439H1026M1107,1447V1453M1187,1447V1453M1268,1447V1453M1347,1447V1453M1427,1447V1453M1508,1447V1453M1587,1447V1453M1667,1447V1453" stroke="#333" stroke-width="1.5"/>
<path d="M1748,1186H1754M1748,1258H1754M1748,1330H1754M1748,1403H1754M1748,1222H1751M1748,1294H1751M1748,1367H1751M1748,1439H1751" stroke="#b0cca4" stroke-width="1.5"/>
<g font-size="19" text-anchor="end" fill="#35a596">
<text x="1012" y="1193">0.400</text><text x="1012" y="1265">0.425</text><text x="1012" y="1337">0.450</text><text x="1012" y="1410">0.475</text>
</g>
<g font-size="19" fill="#a9cc98">
<text x="1756" y="1193">1.0</text><text x="1756" y="1265">1.5</text><text x="1756" y="1337">2.0</text><text x="1756" y="1410">2.5</text>
</g>
<text transform="rotate(-90 957 1333)" x="957" y="1333" text-anchor="middle" font-size="22" font-weight="bold">I<tspan font-size="13" dy="5">OGS</tspan></text>
<text transform="rotate(-90 1822 1324)" x="1822" y="1324" text-anchor="middle" font-size="22" font-weight="bold">ΔG (eV)</text>
<g fill="url(#sGreen)">
<circle cx="1107" cy="1427" r="11"/><circle cx="1187" cy="1373" r="11"/><circle cx="1268" cy="1345" r="11"/><circle cx="1347" cy="1354" r="11"/>
<circle cx="1427" cy="1393" r="11"/><circle cx="1508" cy="1398" r="11"/><circle cx="1587" cy="1402" r="11"/><circle cx="1667" cy="1420" r="11"/>
</g>
<g fill="url(#sTeal)">
<circle cx="1107" cy="1227" r="11"/><circle cx="1187" cy="1226" r="11"/><circle cx="1268" cy="1198" r="11"/><circle cx="1347" cy="1289" r="11"/>
<circle cx="1427" cy="1314" r="11"/><circle cx="1508" cy="1322" r="11"/><circle cx="1587" cy="1328" r="11"/><circle cx="1667" cy="1335" r="11"/>
</g>
<g font-size="21" font-weight="bold" text-anchor="middle" fill="#111">
<text x="1107" y="1477">FeTi</text><text x="1187" y="1477">FeCr</text><text x="1268" y="1477">FeMn</text><text x="1347" y="1477">FeFe</text>
<text x="1427" y="1477">FeCo</text><text x="1508" y="1477">FeNi</text><text x="1587" y="1477">FeV</text><text x="1667" y="1477">FeCu</text>
</g>
</svg>
<script>
(function(){
var NS="http://www.w3.org/2000/svg";
var g=document.getElementById('dos');
var C=[
[129,'#4e3559',2.4,[[6.6,2,2,.25],[5.6,2,2,.3],[4.8,13,14,.3],[4.0,3,3,.25],[2.8,8,10,.3],[2.0,4,4,.25],[0.8,15,24,.28],[0.1,3,3,.2],[-0.9,5,4,.25],[-1.3,4,3,.2],[-2.6,7,6,.28],[-3.6,3,3,.25],[-5,1.5,1.5,.4]]],
[207,'#563a66',2.4,[[4.35,18,1,.25],[3.4,1,20,.28],[2.5,22,3,.32],[1.35,24,6,.3],[0.5,3,4,.25],[-0.5,3,10,.25],[-1.15,4,24,.3],[-2.0,8,8,.28],[-2.8,7,10,.3],[-3.3,3,4,.25],[-4.5,2,2,.4]]],
[273,'#4b2d5d',2.1,[[3.2,2,24,.05],[2.85,3,3,.06],[2.55,9,2,.05],[2.0,3,4,.08],[1.5,9,16,.05],[0.9,2,3,.08],[0.55,3,3,.07],[-0.35,24,32,.05],[-0.7,5,3,.06],[-1.0,6,12,.05],[-1.5,3,3,.08],[-2.1,13,3,.05],[-2.35,3,15,.05],[-2.9,5,3,.06],[-3.3,3,3,.06]]],
[341,'#634a76',2.4,[[2.8,5,1,.3],[2.0,10,12,.3],[1.3,12,4,.28],[0.3,10,5,.3],[-0.3,18,3,.3],[-0.7,3,10,.28],[-1.15,5,20,.3],[-1.6,5,3,.3],[-2.3,12,3,.3],[-3.0,3,15,.3],[-3.6,2,2,.3]]],
[420,'#775d8c',2.4,[[1.6,8,14,.3],[1.0,3,3,.2],[0.3,4,4,.3],[-0.8,20,22,.3],[-1.6,5,5,.3],[-2.5,8,4,.3],[-3.0,5,14,.3],[-3.5,3,3,.2]]],
[482,'#9380a6',2.1,[[0.5,8,8,.05],[-0.5,2,2,.1],[-1.5,3,3,.08],[-2.0,14,26,.05],[-2.5,3,3,.1],[-3.55,9,9,.05],[-4.2,2,2,.1]]],
[556,'#a48eb8',2.1,[[4.7,10,18,.05],[2.8,10,14,.05],[2.2,2,2,.1],[1.5,3,3,.08],[0.5,16,10,.05],[0.1,6,26,.05],[-0.5,3,3,.08],[-1.4,8,3,.05],[-2.0,4,8,.05],[-2.6,3,3,.08]]],
[625,'#c7b5d3',2.4,[[0.6,6,2,.2],[-0.2,2,6,.2],[-2.0,3,3,.3],[-3.0,26,8,.22],[-3.3,6,22,.22],[-3.8,12,8,.25],[-4.6,5,5,.3],[-5.3,3,3,.3]]]
];
C.forEach(function(c){
  [-1,1].forEach(function(s){
    var d="";
    for(var E=7.0;E>=-7.0001;E-=0.02){
      var w=1.3;
      c[3].forEach(function(p){var a=(s<0?p[1]:p[2]);var z=(E-p[0])/p[3];w+=a*Math.exp(-0.5*z*z);});
      var x=c[0]+s*w, y=855-24.75*E;
      d+=(d?"L":"M")+x.toFixed(1)+","+y.toFixed(1);
    }
    var p=document.createElementNS(NS,"path");
    p.setAttribute("d",d);p.setAttribute("fill","none");p.setAttribute("stroke",c[1]);p.setAttribute("stroke-width",c[2]);p.setAttribute("stroke-linejoin","round");
    g.appendChild(p);
  });
});
})();
</script>
</body></html>
